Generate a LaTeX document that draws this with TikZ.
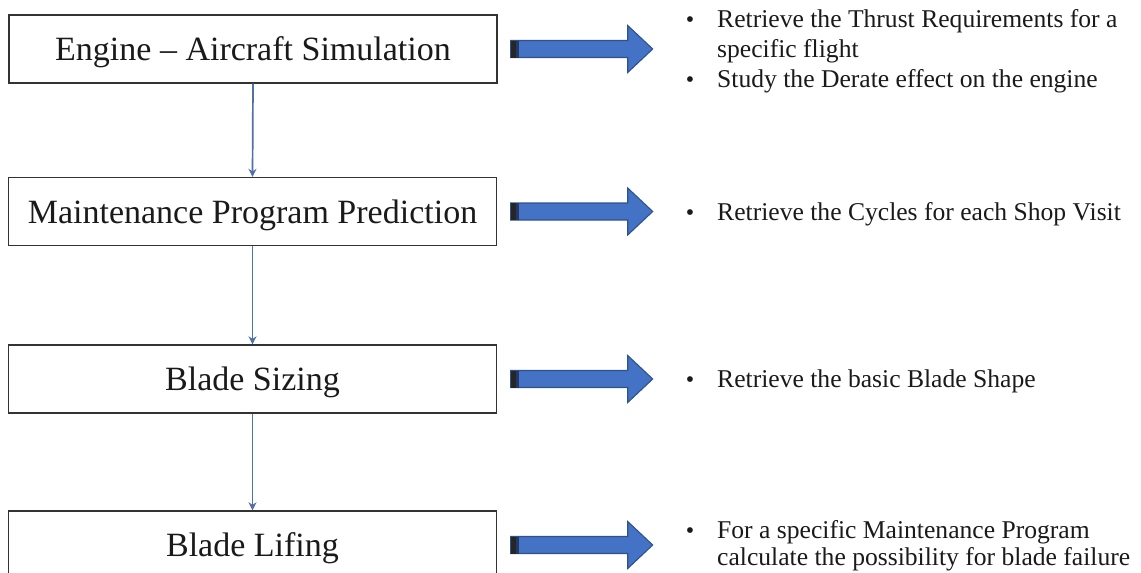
\documentclass[tikz,border=0pt]{standalone}
\usepackage{fontspec}
\setmainfont{Liberation Serif}
\usetikzlibrary{arrows.meta}
\definecolor{arrblue}{HTML}{4472C4}
\definecolor{arredge}{HTML}{2F528F}
\definecolor{connc}{HTML}{5070A8}
\definecolor{ink}{HTML}{1A1A1A}
\definecolor{boxline}{HTML}{333333}
\begin{document}
\begin{tikzpicture}[x=1pt,y=-1pt,
  stepbox/.style={draw=boxline, line width=1.4pt, fill=white, minimum width=488pt,
    minimum height=68pt, text height=23pt, text depth=0pt, inner sep=0pt,
    font=\fontsize{34}{40}\selectfont, text=ink},
  conn/.style={draw=connc, line width=1.7pt, -{Stealth[length=8pt,width=8pt]}},
  bul/.style={anchor=base, inner sep=0pt, text=ink, font=\fontsize{24}{28}\selectfont},
  txt/.style={anchor=base west, inner sep=0pt, text=ink, font=\fontsize{25.6}{30}\selectfont},
  blockarrow/.pic={
    \filldraw[fill=arrblue, draw=arredge, line width=1.1pt]
      (0,-8.5) -- (117,-8.5) -- (117,-23.5) -- (142,0) -- (117,23.5) -- (117,8.5) -- (0,8.5) -- cycle;
    \fill[black!85] (0,-8.5) rectangle (5,8.5);
    \fill[arredge!70!black] (5,-8.5) rectangle (8,8.5);
  }]
\clip (0,0) rectangle (1141,573);
\fill[white] (0,0) rectangle (1141,573);

% boxes
\node[stepbox] (b1) at (253,49)    {Engine -- Aircraft Simulation};
\node[stepbox] (b2) at (252.5,211.5) {Maintenance Program Prediction};
\node[stepbox] (b3) at (252.5,379) {Blade Sizing};
\node[stepbox] (b4) at (252.5,545) {Blade Lifing};

% connectors
\draw[conn] (b1.south) -- (b2.north);
\draw[conn] (b2.south) -- (b3.north);
\draw[conn] (b3.south) -- (b4.north);

% block arrows
\pic at ([xshift=13pt]b1.east) {blockarrow};
\pic at ([xshift=13.5pt]b2.east) {blockarrow};
\pic at ([xshift=13.5pt]b3.east) {blockarrow};
\pic at ([xshift=13.5pt]b4.east) {blockarrow};

% bullet texts
\node[bul] (u1a) at (690,27) {•};
\node[txt] (t1a) at (717,27) {Retrieve the Thrust Requirements for a};
\node[txt] (t1b) at (717,57) {specific flight};
\node[bul] (u1c) at (690,87) {•};
\node[txt] (t1c) at (717,87) {Study the Derate effect on the engine};

\node[bul] (u2) at (690,220) {•};
\node[txt] (t2) at (717,220) {Retrieve the Cycles for each Shop Visit};

\node[bul] (u3) at (690,387) {•};
\node[txt] (t3) at (717,387) {Retrieve the basic Blade Shape};

\node[bul] (u4a) at (690,538) {•};
\node[txt] (t4a) at (717,538) {For a specific Maintenance Program};
\node[txt] (t4b) at (717,565) {calculate the possibility for blade failure};
\end{tikzpicture}
\end{document}
